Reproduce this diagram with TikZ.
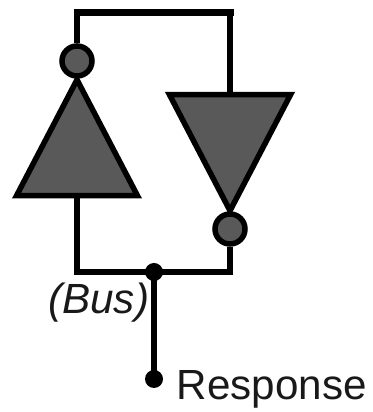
\documentclass[tikz,border=0pt]{standalone}
\usepackage{fontspec}
\setmainfont{Liberation Sans}
\usetikzlibrary{shapes.geometric}
\definecolor{gateGray}{HTML}{595959}
\tikzset{
	gate/.style={draw, fill=gateGray, line width=0.11cm, isosceles triangle, isosceles triangle stretches,
		minimum width=2.42cm, minimum height=2.32cm, inner sep=0pt},
	bubble/.style={draw, fill=gateGray, line width=0.11cm, circle, minimum size=0.6cm, inner sep=0pt},
	junction/.style={fill=black, circle, minimum size=0.36cm, inner sep=0pt},
	wire/.style={line width=0.11cm},
	label/.style={font=\fontsize{24pt}{26pt}\selectfont, inner sep=0pt, text=black!90}
}
\begin{document}
\begin{tikzpicture}
		\useasboundingbox (0,0) rectangle (7.46,8.24);
		
		%Gates
		\node (leftGate) at (1.54,4.27) [gate, shape border rotate=90, anchor=lower side]{};
		\node (rightGate) at (4.6,6.4) [gate, shape border rotate=270, anchor=lower side]{};
		\node (leftBubble) at (1.54,7.02) [bubble]{};
		\node (rightBubble) at (4.6,3.66) [bubble]{};
		
		%Corners and junctions
		\coordinate (topLeft) at (1.54,7.99);
		\coordinate (topRight) at (4.6,7.99);
		\node (busDot) at (3.08,2.8) [junction]{};
		\node (responseDot) at (3.08,0.66) [junction]{};
		
		%Labels
		\node (busLabel) at (0.96,1.97) [label, anchor=base west]{\itshape (Bus)};
		\node (responseLabel) at (3.53,0.25) [label, anchor=base west]{Response};
		
		%Links
		\draw[wire] (leftBubble.north) -- (topLeft);
		\draw[wire] (rightGate.lower side) -- (topRight);
		\draw[wire, line width=0.14cm, line cap=rect] (topLeft) -- (topRight);
		\draw[wire, line join=miter] (leftGate.lower side) |- (busDot.center) -| (rightBubble.south);
		\draw[wire] (busDot.center) -- (responseDot.center);
		
\end{tikzpicture}
\end{document}
